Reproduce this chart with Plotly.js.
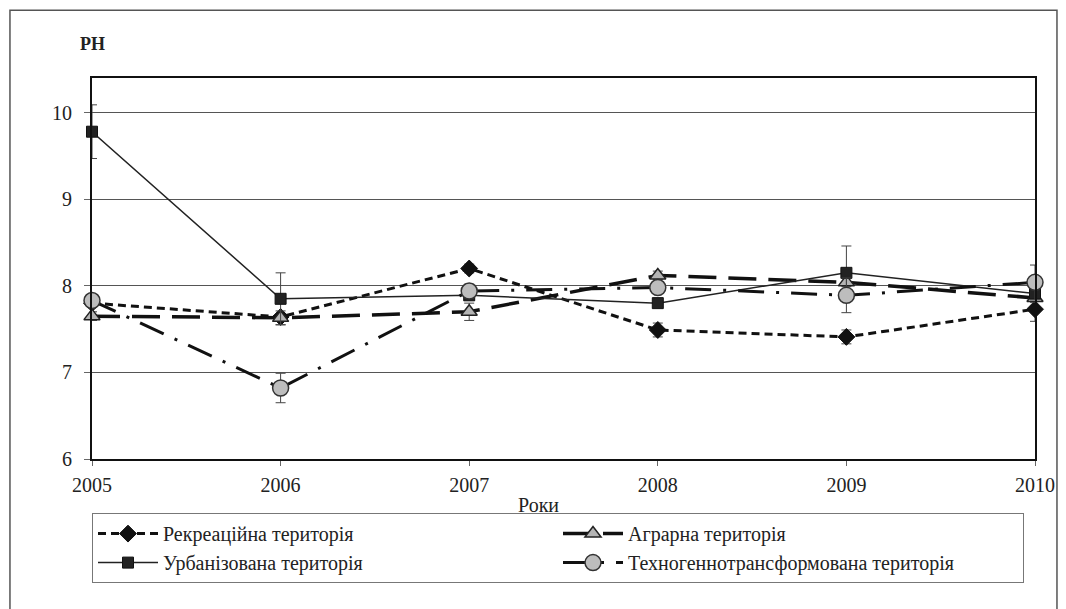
<!DOCTYPE html>
<html>
<head>
<meta charset="utf-8">
<script src="https://cdn.plot.ly/plotly-3.0.1.min.js"></script>
<style>
html,body{margin:0;padding:0;background:#fff;}
#chart{width:1066px;height:609px;}
</style>
</head>
<body>
<div id="chart"></div>
<script>
const years = [2005, 2006, 2007, 2008, 2009, 2010];
const seriesNames = ["Рекреаційна територія", "Аграрна територія", "Урбанізована територія", "Техногеннотрансформована територія"];
const recreational = [7.80, 7.64, 8.20, 7.49, 7.41, 7.73];
const recreationalErr = [0.03, 0.03, 0.05, 0.08, 0.08, 0.14];
const agrarian = [7.65, 7.63, 7.70, 8.12, 8.04, 7.86];
const agrarianErr = [0.05, 0.08, 0.10, 0.05, 0.05, 0.05];
const urban = [9.78, 7.85, 7.89, 7.80, 8.15, 7.91];
const urbanErr = [0.31, 0.30, 0.05, 0.05, 0.31, 0.05];
const techno = [7.83, 6.82, 7.94, 7.98, 7.89, 8.04];
const technoErr = [0.05, 0.17, 0.08, 0.05, 0.20, 0.20];
const yTicks = [6, 7, 8, 9, 10];

const FONT = "'Liberation Serif', 'Times New Roman', serif";
const errStyle = {type: 'data', visible: true, color: '#444', thickness: 1, width: 5};

const traces = [
  {
    x: years, y: recreational, name: seriesNames[0], type: 'scatter', mode: 'lines+markers',
    line: {color: '#111', width: 3, dash: '8px,5px'},
    marker: {symbol: 'diamond', size: 13, color: '#111', line: {color: '#111', width: 1}},
    error_y: Object.assign({array: recreationalErr}, errStyle),
    cliponaxis: false
  },
  {
    x: years, y: agrarian, name: seriesNames[1], type: 'scatter', mode: 'lines+markers',
    line: {color: '#111', width: 3.5, dash: '28px,12px'},
    marker: {symbol: 'triangle-up', size: 14, color: '#b4b4b4', line: {color: '#222', width: 1.5}},
    error_y: Object.assign({array: agrarianErr}, errStyle),
    cliponaxis: false
  },
  {
    x: years, y: urban, name: seriesNames[2], type: 'scatter', mode: 'lines+markers',
    line: {color: '#222', width: 1.5},
    marker: {symbol: 'square', size: 11, color: '#222', line: {color: '#111', width: 1}},
    error_y: Object.assign({array: urbanErr}, errStyle),
    cliponaxis: false
  },
  {
    x: years, y: techno, name: seriesNames[3], type: 'scatter', mode: 'lines+markers',
    line: {color: '#111', width: 3, dash: '26px,12px,3px,12px'},
    marker: {symbol: 'circle', size: 16, color: '#bdbdbd', line: {color: '#333', width: 1.5}},
    error_y: Object.assign({array: technoErr}, errStyle),
    cliponaxis: false
  }
];

const layout = {
  width: 1066, height: 609,
  margin: {l: 92, r: 31, t: 78, b: 150, autoexpand: false},
  paper_bgcolor: '#fff', plot_bgcolor: '#fff',
  font: {family: FONT, size: 20, color: '#222'},
  showlegend: true,
  xaxis: {
    range: [2005, 2010], tickvals: years, ticktext: years.map(String),
    showgrid: false, zeroline: false,
    showline: true, linecolor: '#111', linewidth: 2, mirror: true,
    ticks: 'outside', ticklen: 5, tickcolor: '#666', ticklabelstandoff: 2,
    tickfont: {size: 20, family: FONT, color: '#222'}
  },
  yaxis: {
    range: [6, 10.4], tickvals: yTicks,
    showgrid: true, gridcolor: '#555', gridwidth: 1, zeroline: false,
    showline: true, linecolor: '#111', linewidth: 2, mirror: true,
    ticks: 'outside', ticklen: 6, tickcolor: '#666', ticklabelstandoff: 8,
    tickfont: {size: 20, family: FONT, color: '#222'}
  },
  legend: {
    orientation: 'h', x: 0, xanchor: 'left', y: -0.142, yanchor: 'top',
    entrywidth: 390, entrywidthmode: 'pixels',
    bordercolor: '#777', borderwidth: 1, bgcolor: '#fff',
    font: {size: 20, family: FONT, color: '#222'},
    itemwidth: 60
  },
  annotations: [
    {text: '<b>PH</b>', xref: 'paper', yref: 'paper', x: 0, y: 1.09, xanchor: 'center', yanchor: 'middle', showarrow: false,
     font: {size: 18, family: FONT, color: '#222'}},
    {text: 'Роки', xref: 'paper', yref: 'paper', x: 0.473, y: -0.12, xanchor: 'center', yanchor: 'middle', showarrow: false,
     font: {size: 20, family: FONT, color: '#222'}}
  ],
  shapes: [
    {type: 'rect', xref: 'paper', yref: 'paper', x0: -0.087, x1: 1.0233, y0: -0.41, y1: 1.178,
     line: {color: '#555', width: 1.5}, fillcolor: 'rgba(0,0,0,0)', layer: 'below'}
  ]
};

Plotly.newPlot('chart', traces, layout, {displayModeBar: false, staticPlot: true});
</script>
</body>
</html>
